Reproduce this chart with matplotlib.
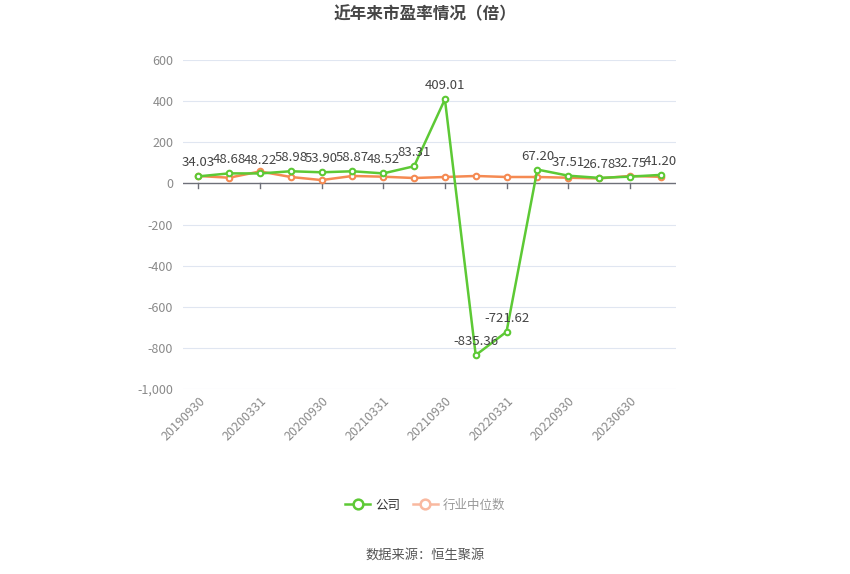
import matplotlib
matplotlib.use("Agg")
import matplotlib.pyplot as plt
from matplotlib.lines import Line2D

plt.rcParams['font.family'] = ['Noto Sans CJK SC', 'DejaVu Sans']

# data
dates = ['20190930', '20191231', '20200331', '20200630', '20200930', '20201231',
         '20210331', '20210630', '20210930', '20211231', '20220331', '20220630',
         '20220930', '20230331', '20230630', '20230930']
company_pe = [34.03, 48.68, 48.22, 58.98, 53.90, 58.87, 48.52, 83.31,
              409.01, -835.36, -721.62, 67.20, 37.51, 26.78, 32.75, 41.20]
industry_pe = [35.8, 27.6, 58.0, 31.0, 16.0, 36.0, 32.5, 26.0,
               31.0, 36.0, 31.0, 31.0, 27.5, 24.0, 36.0, 32.0]
yticks = [600, 400, 200, 0, -200, -400, -600, -800, -1000]

GREEN = '#5dc935'
ORANGE = '#f58a52'
GRID = '#e0e6f1'

fig = plt.figure(figsize=(8.5, 5.74), dpi=100)
ax = fig.add_axes([183 / 850, 1 - 389 / 574, 493 / 850, 329 / 574])

x = list(range(len(dates)))
ax.set_xlim(-0.5, len(dates) - 0.5)
ax.set_ylim(-1000, 600)

# grid lines
for v in yticks:
    if v != 0:
        ax.axhline(v, color=GRID, lw=0.8, zorder=0)
ax.axhline(0, color='#6e7079', lw=1.0, zorder=1)
# tick marks on the zero line
for i in x[::2]:
    ax.plot([i, i], [0, -22], color='#6e7079', lw=1.0, zorder=1, clip_on=False)

ax.plot(x, industry_pe, color=ORANGE, lw=1.8, marker='o', ms=4,
        mfc='white', mec=ORANGE, mew=1.5, zorder=3)
ax.plot(x, company_pe, color=GREEN, lw=1.8, marker='o', ms=4,
        mfc='white', mec=GREEN, mew=1.5, zorder=4)

for i, v in zip(x, company_pe):
    ax.annotate(f'{v:.2f}', (i, v), xytext=(0, 5), textcoords='offset points',
                ha='center', va='bottom', fontsize=9.5, color='#444444', zorder=5)

for s in ax.spines.values():
    s.set_visible(False)
ax.set_yticks(yticks)
ax.set_yticklabels([f'{v:,}' for v in yticks], fontsize=9, color='#8a8a8a')
ax.set_xticks(x[::2])
ax.set_xticklabels(dates[::2], rotation=45, ha='right', rotation_mode='anchor',
                   fontsize=9, color='#8a8a8a')
ax.tick_params(axis='y', length=0, pad=7)
ax.tick_params(axis='x', length=0, pad=4)

fig.text(0.5, 1 - 14 / 574, '近年来市盈率情况（倍）', ha='center', va='center',
         fontsize=12, fontweight='bold', color='#464646')

handles = [
    Line2D([0], [0], color=GREEN, lw=1.8, marker='o', ms=7, mfc='white',
           mec=GREEN, mew=1.8),
    Line2D([0], [0], color='#f9b9a0', lw=1.8, marker='o', ms=7, mfc='white',
           mec='#f9b9a0', mew=1.8),
]
leg = fig.legend(handles, ['公司', '行业中位数'], loc='center',
                 bbox_to_anchor=(0.5, 1 - 505 / 574), ncol=2, frameon=False,
                 fontsize=9, handlelength=2.0, columnspacing=1.0,
                 handletextpad=0.4)
leg.get_texts()[0].set_color('#333333')
leg.get_texts()[1].set_color('#999999')

fig.text(0.5, 1 - 555 / 574, '数据来源：恒生聚源', ha='center', va='center',
         fontsize=9.5, color='#555555')

fig.savefig('out.png', dpi=100)
